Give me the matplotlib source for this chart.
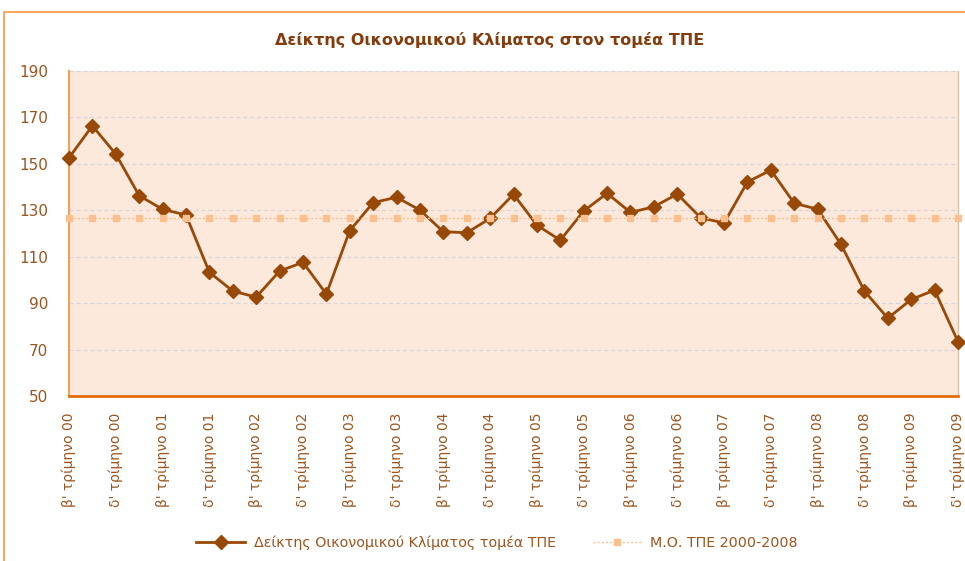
import matplotlib
matplotlib.use("Agg")
import matplotlib.pyplot as plt
from matplotlib.patches import Rectangle

# ---- data ----
quarters = ["β'", "γ'", "δ'"] + ["α'", "β'", "γ'", "δ'"] * 9
years = ["00"] * 3 + [f"{y:02d}" for y in range(1, 10) for _ in range(4)]
categories = [f"{q} τρίμηνο {y}" for q, y in zip(quarters, years)]

index_values = [152.6, 166.4, 154.2, 136.3, 130.4, 128.0, 103.3, 95.2, 92.6, 103.8,
                107.6, 93.9, 121.2, 133.3, 135.6, 130.1, 120.8, 120.3, 126.5, 136.9,
                123.6, 117.1, 129.7, 137.3, 129.1, 131.5, 137.0, 126.8, 124.5, 142.2,
                147.3, 133.0, 130.5, 115.3, 95.2, 83.5, 91.6, 95.6, 73.4]
avg_value = 126.8
avg_values = [avg_value] * len(categories)

series_names = ["Δείκτης Οικονομικού Κλίματος τομέα ΤΠΕ", "Μ.Ο. ΤΠΕ 2000-2008"]
title = "Δείκτης Οικονομικού Κλίματος στον τομέα ΤΠΕ"
yticks = [50, 70, 90, 110, 130, 150, 170, 190]

plt.rcParams['font.family'] = ['DejaVu Sans']

text_col = '#9A5520'
title_col = '#843C0C'
main_col = '#984807'
avg_col = '#FAC090'

fig = plt.figure(figsize=(9.65, 5.61), dpi=100)
fig.patch.set_facecolor('white')

# outer chart border
fig.add_artist(Rectangle((4 / 965, -0.02), 1.1, (561 - 12) / 561 + 0.02,
                         transform=fig.transFigure, fill=False,
                         edgecolor='#F79646', linewidth=1.2))

ax = fig.add_axes([69 / 965, (561 - 396) / 561, (958 - 69) / 965, (396 - 71) / 561])
ax.set_facecolor('#FCE9DB')

x = list(range(len(categories)))
ax.plot(x, index_values, color=main_col, linewidth=2, marker='D', markersize=7.5,
        clip_on=False, zorder=3, label=series_names[0])
ax.plot(x, avg_values, color=avg_col, linewidth=1, linestyle=(0, (1.5, 1.5)),
        marker='s', markersize=5, clip_on=False, zorder=4, label=series_names[1])

ax.set_xlim(0, len(categories) - 1)
ax.set_ylim(50, 190)
ax.set_yticks(yticks)
ax.set_yticklabels([str(v) for v in yticks], fontsize=11, color=text_col)
ax.set_xticks(x[::2])
ax.set_xticklabels(categories[::2], rotation=90, fontsize=10, color=text_col)
ax.tick_params(axis='x', length=0, pad=12)
ax.tick_params(axis='y', length=0, pad=15)

for v in yticks[1:]:
    ax.axhline(v, color='#DAD5D8', linewidth=1, linestyle=(0, (3, 2)), zorder=1)

ax.spines['bottom'].set_color('#E46C0A')
ax.spines['bottom'].set_linewidth(2)
ax.spines['left'].set_color('#F5A05A')
ax.spines['left'].set_linestyle((0, (1, 1)))
ax.spines['left'].set_linewidth(1.5)
ax.spines['right'].set_color('#D9C3A5')
ax.spines['right'].set_linewidth(1)
ax.spines['top'].set_visible(False)

fig.text(490 / 965, 1 - 40 / 561, title, ha='center', va='center',
         fontsize=11.5, fontweight='bold', color=title_col)

leg = fig.legend(loc='center', bbox_to_anchor=(497 / 965, 1 - 543 / 561), ncol=2,
                 frameon=False, fontsize=10.3, handlelength=3.4, columnspacing=2.6,
                 handletextpad=0.6)
for t in leg.get_texts():
    t.set_color(text_col)

fig.savefig('out.png', dpi=100, facecolor='white')
